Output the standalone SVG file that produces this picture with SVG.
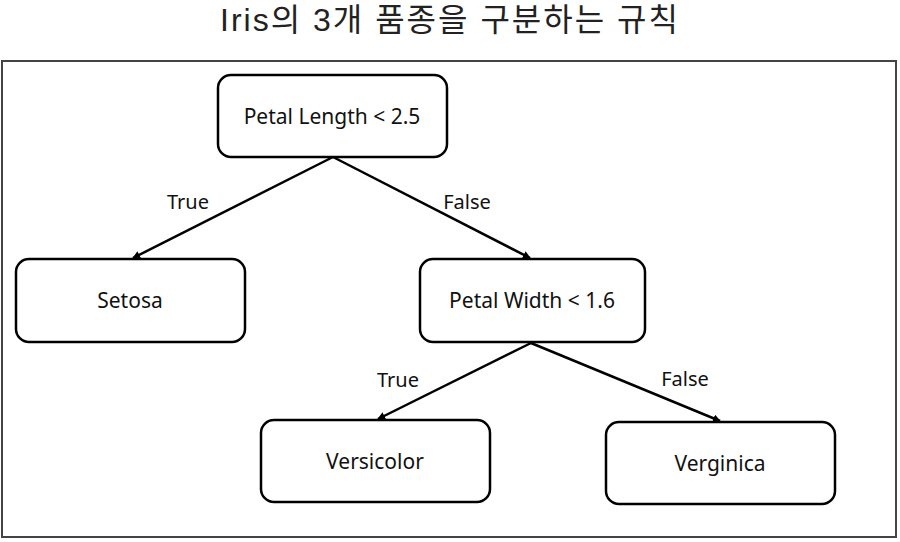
<svg xmlns="http://www.w3.org/2000/svg" width="900" height="542" viewBox="0 0 900 542">
<style>
.node rect{fill:#fff;stroke:#000;stroke-width:2.5}
.node text{font-family:"Noto Sans","Noto Sans CJK KR",sans-serif;font-size:21px;fill:#111;text-anchor:middle;dominant-baseline:central}
.lbl{font-family:"Noto Sans","Noto Sans CJK KR",sans-serif;font-size:20px;fill:#111;text-anchor:middle}
.edge{stroke:#000;stroke-width:2.5;fill:none;marker-end:url(#ah)}
</style>
<defs>
<marker id="ah" markerWidth="8" markerHeight="8" refX="7" refY="4" orient="auto" markerUnits="userSpaceOnUse">
<path d="M0,0 L8,4 L0,8 z" fill="#000"/>
</marker>
</defs>
<rect x="0" y="0" width="900" height="542" fill="#fff"/>
<text x="450" y="31" font-family="'Liberation Sans','Noto Sans CJK KR',sans-serif" font-size="32" letter-spacing="2" fill="#222" text-anchor="middle">Iris의 3개 품종을 구분하는 규칙</text>
<rect id="frame" x="2" y="61" width="894" height="476" fill="none" stroke="#444" stroke-width="2"/>
<g id="connectors">
<line class="edge" x1="333" y1="157" x2="133" y2="258"/>
<line class="edge" x1="333" y1="157" x2="530" y2="258"/>
<line class="edge" x1="531" y1="343" x2="378" y2="419"/>
<line class="edge" x1="531" y1="343" x2="720" y2="421"/>
<text class="lbl" x="188" y="209">True</text>
<text class="lbl" x="467" y="209">False</text>
<text class="lbl" x="398" y="387">True</text>
<text class="lbl" x="685" y="386">False</text>
</g>
<g id="root" class="node"><rect x="218" y="75" width="229" height="82" rx="13"/><text x="332" y="116">Petal Length &lt; 2.5</text></g>
<g id="setosa" class="node"><rect x="16" y="259" width="229" height="83" rx="13"/><text x="130" y="300">Setosa</text></g>
<g id="petalwidth" class="node"><rect x="420" y="259" width="225" height="83" rx="13"/><text x="532" y="300">Petal Width &lt; 1.6</text></g>
<g id="versicolor" class="node"><rect x="261" y="420" width="229" height="82" rx="13"/><text x="375" y="461">Versicolor</text></g>
<g id="verginica" class="node"><rect x="606" y="422" width="229" height="82" rx="13"/><text x="720" y="463">Verginica</text></g>
</svg>
